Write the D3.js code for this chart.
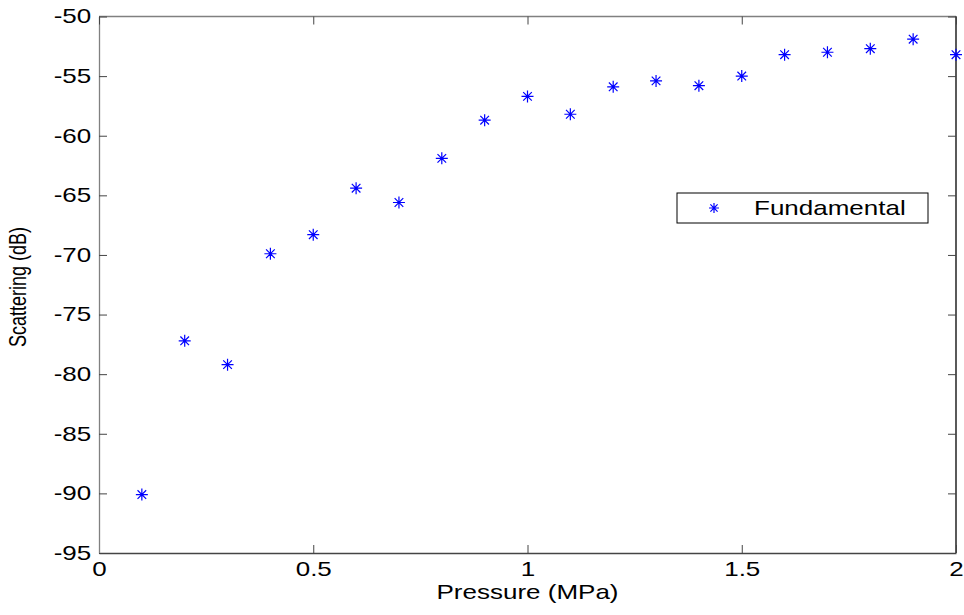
<!DOCTYPE html>
<html>
<head>
<meta charset="utf-8">
<script src="https://cdn.jsdelivr.net/npm/d3@7"></script>
<style>
  body { margin: 0; background: #fff; }
  text { font-family: "Liberation Sans", Arial, sans-serif; fill: #000; }
</style>
</head>
<body>
<div id="chart"></div>
<script>
// pressure (MPa) and fundamental scattering (dB)
var pressure = [0.1, 0.2, 0.3, 0.4, 0.5, 0.6, 0.7, 0.8, 0.9, 1.0,
                1.1, 1.2, 1.3, 1.4, 1.5, 1.6, 1.7, 1.8, 1.9, 2.0];
var scattering = [-90.1, -77.2, -79.2, -69.9, -68.3, -64.4, -65.6, -61.9, -58.7, -56.7,
                  -58.2, -55.9, -55.4, -55.8, -55.0, -53.2, -53.0, -52.7, -51.9, -53.2];
var xTicks = [0, 0.5, 1, 1.5, 2];
var yTicks = [-95, -90, -85, -80, -75, -70, -65, -60, -55, -50];
var seriesName = "Fundamental";

var W = 964, H = 615;
var mLeft = 99, mRight = 956, mTop = 16.5, mBottom = 553;
var stretch = 1.3; // the reference text is drawn wide

var x = d3.scaleLinear().domain([0, 2]).range([mLeft, mRight]);
var y = d3.scaleLinear().domain([-95, -50]).range([mBottom, mTop]);

var svg = d3.select("#chart").append("svg")
  .attr("width", W).attr("height", H);

// axis box
svg.append("line").attr("x1", mLeft).attr("x2", mRight).attr("y1", mTop).attr("y2", mTop)
  .attr("stroke", "#808080").attr("stroke-width", 1.3);
svg.append("line").attr("x1", mRight).attr("x2", mRight).attr("y1", mTop).attr("y2", mBottom)
  .attr("stroke", "#000").attr("stroke-width", 1.3);

var xAxis = svg.append("g")
  .attr("transform", "translate(0," + mBottom + ")")
  .call(d3.axisBottom(x).tickValues(xTicks).tickFormat(d3.format("")).tickSizeInner(-8).tickSizeOuter(0).tickPadding(9));
xAxis.select(".domain").attr("stroke", "#444").attr("stroke-width", 1.3);
xAxis.selectAll(".tick line").attr("stroke", "#444");
xAxis.selectAll("text").attr("font-size", 20).attr("font-family", "Liberation Sans, Arial, sans-serif")
  .attr("transform", "scale(" + stretch + ",1)");

var yAxis = svg.append("g")
  .attr("transform", "translate(" + mLeft + ",0)")
  .call(d3.axisLeft(y).tickValues(yTicks).tickFormat(d3.format("")).tickSizeInner(-8).tickSizeOuter(0).tickPadding(6));
yAxis.select(".domain").attr("stroke", "#808080").attr("stroke-width", 1.3);
yAxis.selectAll(".tick line").attr("stroke", "#444");
yAxis.selectAll("text").attr("font-size", 20).attr("font-family", "Liberation Sans, Arial, sans-serif")
  .attr("transform", "scale(" + stretch + ",1)")
  .text(function(d) { return String(d); });

// ticks on top and right edges (pointing inward)
svg.append("g").attr("transform", "translate(0," + mTop + ")")
  .call(d3.axisTop(x).tickValues(xTicks).tickFormat("").tickSizeInner(-8).tickSizeOuter(0))
  .call(function(g) { g.select(".domain").remove(); g.selectAll("line").attr("stroke", "#444"); });
svg.append("g").attr("transform", "translate(" + mRight + ",0)")
  .call(d3.axisRight(y).tickValues(yTicks).tickFormat("").tickSizeInner(-8).tickSizeOuter(0))
  .call(function(g) { g.select(".domain").remove(); g.selectAll("line").attr("stroke", "#444"); });

// axis labels
svg.append("text")
  .attr("transform", "translate(" + ((mLeft + mRight) / 2) + ",599) scale(" + stretch + ",1)")
  .attr("text-anchor", "middle").attr("font-size", 20)
  .text("Pressure (MPa)");
svg.append("text")
  .attr("transform", "translate(26,287) rotate(-90) scale(1," + stretch + ")")
  .attr("text-anchor", "middle").attr("font-size", 18)
  .text("Scattering (dB)");

// asterisk marker
function star(g, cx, cy, r) {
  var d = "M" + (cx - r) + "," + cy + "H" + (cx + r) +
          "M" + cx + "," + (cy - r) + "V" + (cy + r);
  var k = r * 0.72;
  d += "M" + (cx - k) + "," + (cy - k) + "L" + (cx + k) + "," + (cy + k) +
       "M" + (cx - k) + "," + (cy + k) + "L" + (cx + k) + "," + (cy - k);
  g.append("path").attr("d", d).attr("stroke", "#0000ff").attr("stroke-width", 1.2).attr("fill", "none");
}

var pts = svg.append("g");
pressure.forEach(function(p, i) {
  star(pts, x(p), y(scattering[i]), 6);
});

// legend
var lg = svg.append("g");
lg.append("rect").attr("x", 677).attr("y", 193).attr("width", 251).attr("height", 30)
  .attr("fill", "#fff").attr("stroke", "#000").attr("stroke-width", 1);
star(lg, 714, 208, 5);
lg.append("text")
  .attr("transform", "translate(754,215) scale(" + stretch + ",1)")
  .attr("font-size", 20).text(seriesName);
</script>
</body>
</html>
